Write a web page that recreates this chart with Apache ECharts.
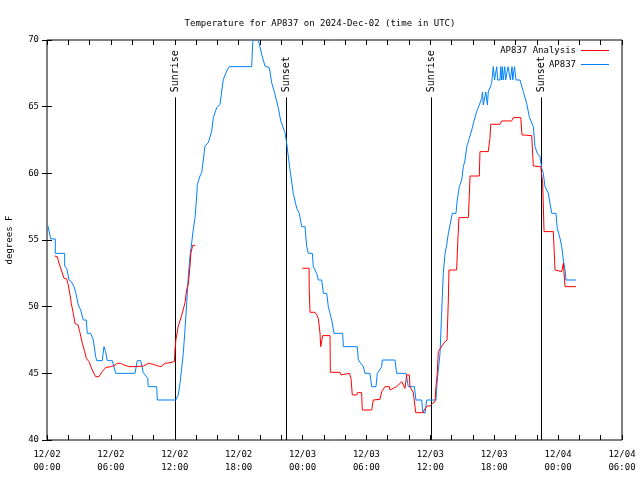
<!DOCTYPE html>
<html>
<head>
<meta charset="utf-8">
<script src="https://cdn.jsdelivr.net/npm/echarts@6/dist/echarts.min.js"></script>
<style>html,body{margin:0;padding:0;background:#fff}#c{width:640px;height:480px}</style>
</head>
<body>
<div id="c"></div>
<script>
// hours since 2024-12-02 00:00 UTC
const blueHours = [0.09,0.35,0.78,0.78,1.66,1.66,1.85,2.07,2.28,2.54,2.72,2.94,3.16,3.41,3.69,3.78,4.10,4.35,4.57,4.67,5.19,5.35,5.51,5.66,6.13,6.45,8.26,8.48,8.80,9.04,9.46,9.51,10.30,10.36,12.09,12.33,12.49,12.65,12.80,12.96,13.12,13.27,13.43,13.59,13.74,13.90,14.06,14.12,14.37,14.53,14.68,14.84,15.15,15.47,15.62,15.94,16.25,16.41,16.56,16.88,17.12,19.22,19.32,19.58,19.84,20.16,20.47,20.88,21.10,21.41,21.72,21.95,22.35,22.51,22.82,23.13,23.45,23.69,23.92,24.23,24.39,24.54,24.92,25.01,25.33,25.48,25.80,25.95,26.27,26.42,26.58,26.74,26.95,27.77,27.83,29.14,29.24,29.71,29.86,30.33,30.49,30.90,31.02,31.43,31.49,32.68,32.84,33.72,33.93,34.50,34.65,35.19,35.28,35.50,35.66,36.53,36.65,36.91,37.12,37.22,37.38,37.54,37.69,37.85,38.06,38.41,38.53,38.72,38.95,39.10,39.26,39.42,39.66,39.89,40.04,40.35,40.60,40.82,40.90,40.97,41.13,41.21,41.28,41.36,41.44,41.60,41.76,41.91,42.03,42.17,42.24,42.32,42.54,42.62,42.69,42.77,42.84,42.99,43.07,43.22,43.30,43.45,43.52,43.67,43.74,43.90,43.97,44.05,44.42,44.73,45.05,45.29,45.67,45.83,46.05,46.30,46.46,46.61,46.77,47.08,47.40,47.80,47.92,48.18,48.34,48.49,48.65,48.74,49.68];
const blueTemps = [56.05,55.08,55.08,54.0,54.0,53.05,52.88,52.0,51.87,51.5,51.0,50.13,49.75,49.0,49.0,48.0,48.0,47.5,46.25,45.95,45.95,47.0,46.62,45.95,45.95,45.0,45.0,45.95,45.95,45.05,44.63,44.0,44.0,43.0,43.0,43.38,44.25,45.38,46.5,48.3,50.3,52.3,53.8,54.8,55.8,56.67,58.3,59.18,59.8,60.05,60.05,62.05,62.3,63.18,64.18,64.93,65.18,66.18,67.05,67.68,68.0,68.0,69.8,70.75,70.05,68.93,68.05,67.92,66.8,65.93,64.93,63.93,63.05,62.25,60.25,58.5,57.38,57.0,56.0,56.0,54.5,54.0,54.0,53.0,52.5,52.0,52.0,51.0,51.0,50.0,49.5,49.0,48.0,48.0,47.0,47.0,46.0,45.5,45.0,45.0,44.0,44.0,45.0,45.5,46.0,46.0,45.0,45.0,44.0,44.0,43.0,43.0,42.13,42.0,43.0,43.0,44.5,46.5,50.63,52.5,54.0,54.63,55.5,56.13,57.0,57.0,58.0,59.0,59.5,60.5,61.0,62.0,62.63,63.25,63.75,64.63,65.13,65.63,66.1,65.13,65.13,66.1,66.1,65.13,66.1,66.1,66.75,68.0,67.0,67.0,68.0,67.0,67.0,68.0,67.0,68.0,67.0,68.0,67.0,67.0,68.0,68.0,67.0,68.0,67.0,68.0,68.0,67.0,67.0,66.13,65.25,64.25,63.5,62.0,61.5,61.25,60.38,60.0,59.0,58.5,57.0,57.0,55.88,55.13,54.5,53.5,52.75,52.0,52.0];

const redHours = [0.72,0.97,1.13,1.34,1.60,1.85,2.00,2.16,2.28,2.47,2.63,2.91,3.07,3.32,3.54,3.69,3.94,4.25,4.57,4.88,5.19,5.51,5.98,6.29,6.60,6.92,7.23,7.70,8.17,9.04,9.20,9.51,9.98,10.45,10.71,11.08,11.55,11.96,12.02,12.11,12.33,12.65,12.80,12.96,13.12,13.27,13.43,13.52,13.68,13.93,
  18.0,
  23.98,24.61,24.63,24.70,25.17,25.33,25.48,25.64,25.70,25.85,25.89,26.58,26.61,27.52,27.61,27.68,28.39,28.55,28.67,29.09,29.14,29.55,29.61,30.49,30.64,31.27,31.43,31.58,31.74,32.15,32.21,32.37,32.52,32.84,32.99,33.31,33.46,33.62,33.78,34.03,34.09,34.25,34.40,34.56,34.63,35.34,35.41,35.59,35.72,35.97,36.13,36.22,36.44,36.53,36.65,36.75,36.91,37.28,37.57,37.69,37.75,38.47,38.57,38.69,39.57,39.66,39.73,40.60,40.66,41.44,41.60,41.67,42.54,42.70,43.64,43.79,44.49,44.61,45.52,45.67,46.37,46.55,46.68,47.55,47.71,48.34,48.49,48.65,49.68];
const redTemps = [53.8,53.75,53.25,52.75,52.13,52.08,51.63,50.88,50.25,49.5,48.75,48.63,48.13,47.25,46.63,46.13,45.88,45.25,44.75,44.75,45.13,45.43,45.5,45.57,45.75,45.75,45.63,45.5,45.5,45.55,45.68,45.75,45.68,45.55,45.5,45.75,45.8,45.88,46.75,47.55,48.55,49.35,49.43,50.3,51.3,51.68,53.05,54.05,54.6,54.6,
  null,
  52.88,52.88,51.25,49.58,49.58,49.38,49.13,48.0,47.0,47.0,47.83,47.83,45.08,45.08,44.88,45.0,45.0,44.63,43.38,43.38,43.55,43.55,42.25,42.25,43.0,43.05,43.63,43.63,44.0,44.0,43.75,43.63,43.88,44.0,43.88,44.38,44.38,43.88,44.88,44.88,44.0,44.0,43.55,43.55,42.05,42.05,42.25,42.25,42.55,42.55,42.63,42.75,42.88,44.0,45.0,46.63,46.75,47.28,47.5,50.5,52.75,52.75,54.75,56.68,56.68,58.25,59.8,59.8,61.63,61.63,62.63,63.68,63.68,63.93,63.93,64.18,64.18,62.88,62.83,60.55,60.5,59.25,55.63,55.63,52.75,52.63,53.25,51.5,51.5];

const sunHours = [12.02, 22.45, 36.06, 46.39];
const sunLabels = ['Sunrise', 'Sunset', 'Sunrise', 'Sunset'];
const sunLineTop = 65.7;

const FONT = 'DejaVu Sans Mono';
const RED = '#ff0000', BLUE = '#0080ff';
const pad2 = n => (n < 10 ? '0' : '') + n;

const chart = echarts.init(document.getElementById('c'));
chart.setOption({
  animation: false,
  backgroundColor: '#fff',
  textStyle: { fontFamily: FONT },
  title: {
    text: 'Temperature for AP837 on 2024-Dec-02 (time in UTC)',
    left: 'center', top: 14,
    textStyle: { fontFamily: FONT, fontSize: 9, fontWeight: 'normal', color: '#000' }
  },
  legend: {
    orient: 'vertical', right: 31, top: 45, align: 'right',
    itemWidth: 28, itemHeight: 1, itemGap: 3, padding: 0,
    icon: 'rect',
    data: [
      { name: 'AP837 Analysis', icon: 'rect', itemStyle: { color: RED } },
      { name: 'AP837', icon: 'rect', itemStyle: { color: BLUE } }
    ],
    textStyle: { fontFamily: FONT, fontSize: 9, color: '#000', lineHeight: 11 }
  },
  grid: { left: 47, right: 18, top: 40, bottom: 40, show: true, borderColor: '#000', borderWidth: 1, backgroundColor: 'transparent', containLabel: false, outerBoundsMode: 'none' },
  xAxis: [{
    type: 'value', min: 0, max: 54, interval: 2, position: 'bottom',
    axisLine: { show: false },
    axisTick: { inside: true, length: 5, lineStyle: { color: '#000' } },
    splitLine: { show: false },
    axisLabel: {
      margin: 8, fontFamily: FONT, fontSize: 9, color: '#000', lineHeight: 13,
      showMinLabel: true, showMaxLabel: true,
      formatter: v => {
        if (v % 6 !== 0) return '';
        const day = 2 + Math.floor(v / 24);
        return '12/' + pad2(day) + '\n' + pad2(v % 24) + ':00';
      }
    }
  }, {
    type: 'value', min: 0, max: 54, interval: 2, position: 'top',
    axisLine: { show: false },
    axisTick: { inside: true, length: 5, lineStyle: { color: '#000' } },
    splitLine: { show: false },
    axisLabel: { show: false }
  }],
  yAxis: [{
    type: 'value', min: 40, max: 70, interval: 5, position: 'left',
    name: 'degrees F', nameLocation: 'middle', nameGap: 33, nameRotate: 90,
    nameTextStyle: { fontFamily: FONT, fontSize: 9, color: '#000' },
    axisLine: { show: false },
    axisTick: { inside: true, length: 5, lineStyle: { color: '#000' } },
    splitLine: { show: false },
    axisLabel: { margin: 8, fontFamily: FONT, fontSize: 9, color: '#000' }
  }, {
    type: 'value', min: 40, max: 70, interval: 5, position: 'right',
    axisLine: { show: false },
    axisTick: { inside: true, length: 5, lineStyle: { color: '#000' } },
    splitLine: { show: false },
    axisLabel: { show: false }
  }],
  series: [{
    type: 'custom', name: 'sun', xAxisIndex: 0, yAxisIndex: 0, silent: true,
    data: sunHours.map((h, i) => [h, sunLabels[i]]),
    renderItem: (params, api) => {
      const h = api.value(0);
      const p0 = api.coord([h, 40]);
      const p1 = api.coord([h, sunLineTop]);
      const x = Math.round(p0[0]) + 0.5;
      return {
        type: 'group',
        children: [{
          type: 'line',
          shape: { x1: x, y1: p0[1], x2: x, y2: p1[1] },
          style: { stroke: '#000', lineWidth: 1 }
        }, {
          type: 'text',
          x: x, y: p1[1] - 5, rotation: Math.PI / 2,
          style: {
            text: sunLabels[params.dataIndex], fill: '#000',
            font: '10px ' + FONT, align: 'left', verticalAlign: 'middle'
          }
        }]
      };
    }
  }, {
    type: 'line', name: 'AP837', symbol: 'none', showSymbol: false,
    lineStyle: { color: BLUE, width: 1 }, itemStyle: { color: BLUE },
    data: blueHours.map((h, i) => [h, blueTemps[i]]),
    clip: true
  }, {
    type: 'line', name: 'AP837 Analysis', symbol: 'none', showSymbol: false,
    lineStyle: { color: RED, width: 1 }, itemStyle: { color: RED },
    connectNulls: false,
    data: redHours.map((h, i) => [h, redTemps[i]]),
    clip: true
  }]
});
</script>
</body>
</html>
